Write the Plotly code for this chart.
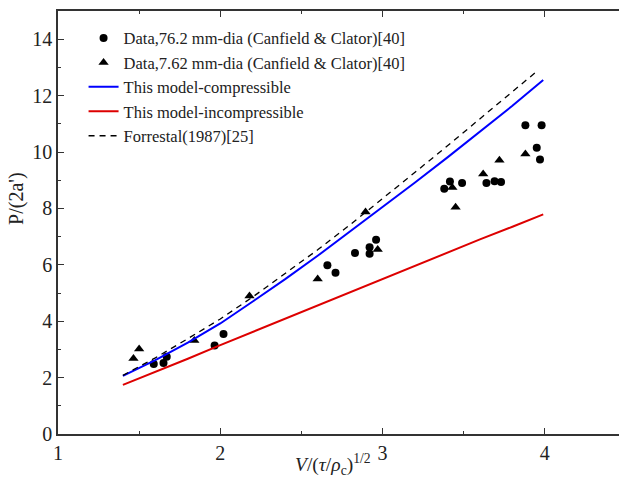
import plotly.graph_objects as go

# Data, 76.2 mm-dia (circles)
circ_x = [1.59, 1.65, 1.67, 1.965, 2.02, 2.66, 2.71, 2.83, 2.92, 2.92, 2.96,
          3.38, 3.415, 3.49, 3.64, 3.69, 3.73, 3.88, 3.98, 3.95, 3.97]
circ_y = [2.48, 2.52, 2.74, 3.14, 3.55, 5.98, 5.72, 6.42, 6.62, 6.39, 6.89,
          8.70, 8.95, 8.90, 8.90, 8.96, 8.94, 10.95, 10.95, 10.15, 9.73]

# Data, 7.62 mm-dia (triangles)
tri_x = [1.465, 1.50, 1.84, 2.18, 2.60, 2.895, 2.97, 3.43, 3.45, 3.62, 3.72, 3.88]
tri_y = [2.68, 3.01, 3.32, 4.89, 5.50, 7.87, 6.54, 8.74, 8.04, 9.22, 9.71, 9.93]

# This model - compressible
comp_x = [1.40, 1.6, 1.8, 2.0, 2.2, 2.4, 2.6, 2.8, 3.0, 3.2, 3.4, 3.6, 3.8, 3.99]
comp_y = [2.06, 2.62, 3.24, 3.92, 4.70, 5.49, 6.32, 7.18, 8.05, 8.92, 9.81, 10.72, 11.64, 12.55]

# This model - incompressible
inc_x = [1.40, 1.6, 1.8, 2.0, 2.2, 2.4, 2.6, 2.8, 3.0, 3.2, 3.4, 3.6, 3.8, 3.99]
inc_y = [1.74, 2.2, 2.67, 3.15, 3.62, 4.08, 4.55, 5.02, 5.48, 5.95, 6.42, 6.9, 7.35, 7.79]

# Forrestal (1987)
for_x = [1.4, 1.6, 1.8, 2.0, 2.2, 2.4, 2.6, 2.8, 3.0, 3.2, 3.4, 3.6, 3.8, 3.94]
for_y = [2.08, 2.7, 3.38, 4.08, 4.86, 5.68, 6.53, 7.42, 8.34, 9.28, 10.22, 11.17, 12.12, 12.81]

FONT = "Liberation Serif, Times New Roman, serif"

fig = go.Figure()
fig.add_trace(go.Scatter(x=circ_x, y=circ_y, mode="markers",
                         name="Data,76.2 mm-dia (Canfield &amp; Clator)[40]",
                         marker=dict(symbol="circle", size=8, color="black")))
fig.add_trace(go.Scatter(x=tri_x, y=tri_y, mode="markers",
                         name="Data,7.62 mm-dia (Canfield &amp; Clator)[40]",
                         marker=dict(symbol="triangle-up", size=9, color="black")))
fig.add_trace(go.Scatter(x=comp_x, y=comp_y, mode="lines",
                         name="This model-compressible",
                         line=dict(color="#0000ff", width=2)))
fig.add_trace(go.Scatter(x=inc_x, y=inc_y, mode="lines",
                         name="This model-incompressible",
                         line=dict(color="#dd0000", width=2)))
fig.add_trace(go.Scatter(x=for_x, y=for_y, mode="lines",
                         name="Forrestal(1987)[25]",
                         line=dict(color="black", width=1.3, dash="6px,5px")))

axis_common = dict(showline=True, linecolor="#333333", linewidth=1.5, mirror="ticks",
                   ticks="inside", ticklen=6, tickwidth=1.3, tickcolor="#333333",
                   showgrid=False, zeroline=False,
                   tickfont=dict(family=FONT, size=20, color="#222222"))

fig.update_xaxes(range=[1, 4.5], tickvals=[1, 2, 3, 4],
                 minor=dict(ticks="inside", ticklen=3, tickcolor="#333333", dtick=0.5, tick0=1),
                 **axis_common)
fig.update_yaxes(range=[0, 15], tickvals=[0, 2, 4, 6, 8, 10, 12, 14],
                 minor=dict(ticks="inside", ticklen=3, tickcolor="#333333", dtick=1, tick0=0),
                 **axis_common)

fig.update_layout(
    width=619, height=472,
    margin=dict(l=50, r=1, t=3, b=46, autoexpand=False),
    plot_bgcolor="white", paper_bgcolor="white",
    font=dict(family=FONT, color="#222222"),
    showlegend=True,
    legend=dict(x=0.045, y=0.977, xanchor="left", yanchor="top",
                bgcolor="rgba(0,0,0,0)", borderwidth=0,
                font=dict(family=FONT, size=16.5, color="#222222"),
                tracegroupgap=0, itemwidth=30),
    annotations=[
        dict(text="<i>V</i>/(<i>τ</i>/<i>ρ</i><sub>c</sub>)<sup>1/2</sup>",
             xref="paper", yref="paper", x=0.484, y=-0.073, xanchor="center", yanchor="middle",
             showarrow=False, font=dict(family=FONT, size=19.5, color="#222222")),
        dict(text="P/(2a')", xref="paper", yref="paper", x=-0.072, y=0.556,
             xanchor="center", yanchor="middle", textangle=-90,
             showarrow=False, font=dict(family=FONT, size=20, color="#222222")),
    ],
)

fig.write_html("out.html")
